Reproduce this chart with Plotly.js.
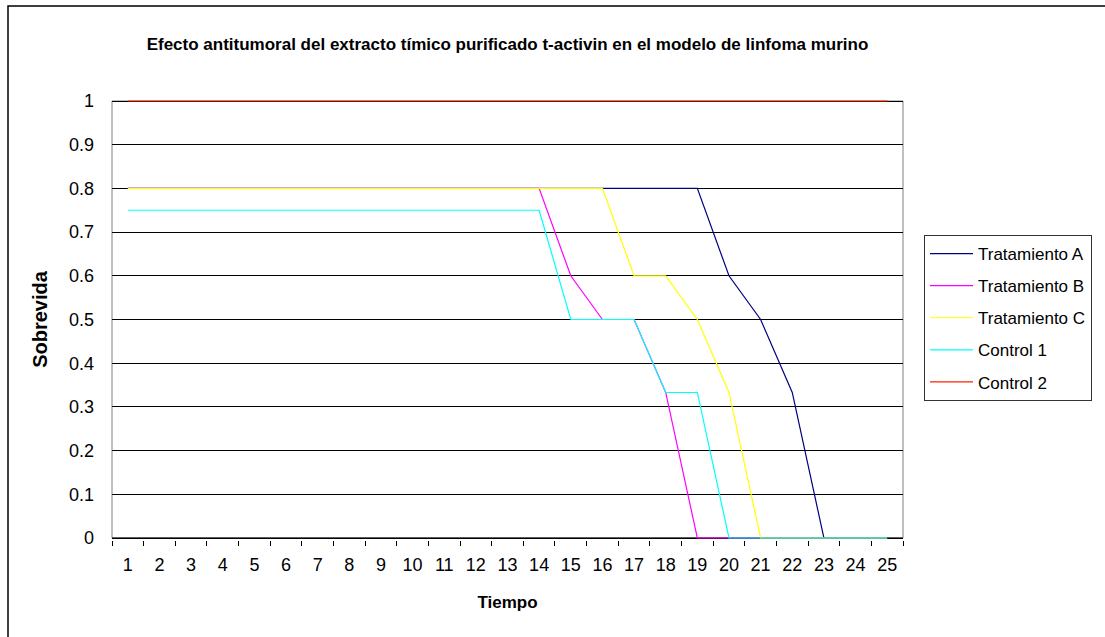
<!DOCTYPE html>
<html>
<head>
<meta charset="utf-8">
<script src="https://cdn.plot.ly/plotly-3.0.1.min.js"></script>
<style>
  html, body { margin: 0; padding: 0; background: #fff; }
  #chart { width: 1105px; height: 637px; }
</style>
</head>
<body>
<div id="chart"></div>
<script>
const tiempo = ['1','2','3','4','5','6','7','8','9','10','11','12','13','14','15','16','17','18','19','20','21','22','23','24','25'];
const tratamientoA = [0.8,0.8,0.8,0.8,0.8,0.8,0.8,0.8,0.8,0.8,0.8,0.8,0.8,0.8,0.8,0.8,0.8,0.8,0.8,0.6,0.5,0.333,0,0,0];
const tratamientoB = [0.8,0.8,0.8,0.8,0.8,0.8,0.8,0.8,0.8,0.8,0.8,0.8,0.8,0.8,0.6,0.5,0.5,0.333,0,0,0,0,0,0,0];
const tratamientoC = [0.8,0.8,0.8,0.8,0.8,0.8,0.8,0.8,0.8,0.8,0.8,0.8,0.8,0.8,0.8,0.8,0.6,0.6,0.5,0.333,0,0,0,0,0];
const control1 = [0.75,0.75,0.75,0.75,0.75,0.75,0.75,0.75,0.75,0.75,0.75,0.75,0.75,0.75,0.5,0.5,0.5,0.333,0.333,0,0,0,0,0,0];
const control2 = [1,1,1,1,1,1,1,1,1,1,1,1,1,1,1,1,1,1,1,1,1,1,1,1,1];
const yTicks = [0,0.1,0.2,0.3,0.4,0.5,0.6,0.7,0.8,0.9,1];

const seriesNames = ['Tratamiento A','Tratamiento B','Tratamiento C','Control 1','Control 2'];
const seriesValues = [tratamientoA, tratamientoB, tratamientoC, control1, control2];
const seriesColors = ['#000080','#FF00FF','#FFFF00','#00FFFF','#FF2200'];

const font = 'Liberation Sans, Arial, sans-serif';

const traces = seriesNames.map((n, i) => ({
  x: tiempo, y: seriesValues[i], name: n, type: 'scatter', mode: 'lines',
  line: { color: seriesColors[i], width: 1.2 }, legendgroup: 'g' + i,
  cliponaxis: false
}));

// value 0 at y=538px, value 1 at y=101px; plot box 2px larger on top/bottom
const L = 112, R = 903, T = 99, B = 540;
const V0 = 538, V1 = 101;
const unit = V0 - V1;
const yLo = -(B - V0) / unit, yHi = 1 + (V1 - T) / unit;
const px = v => (v - L) / (R - L);
const py = v => (B - v) / (B - T);

const layout = {
  width: 1105, height: 637,
  margin: { l: L, r: 1105 - R, t: T, b: 637 - B },
  paper_bgcolor: '#fff', plot_bgcolor: '#fff',
  font: { family: font, color: '#000', size: 17 },
  showlegend: true,
  title: {
    text: '<b>Efecto antitumoral del extracto tímico purificado t-activin en el modelo de linfoma murino</b>',
    font: { family: font, size: 17, color: '#000' },
    x: 0.5, xref: 'paper', xanchor: 'center',
    y: 1 - 44 / 637, yref: 'container', yanchor: 'middle'
  },
  xaxis: {
    type: 'category', range: [-0.5, 24.5],
    tickmode: 'array', tickvals: tiempo, ticktext: tiempo,
    tickson: 'boundaries', ticks: 'outside', ticklen: 5, tickcolor: '#000', tickwidth: 1,
    showline: false,
    showgrid: false, zeroline: false, layer: 'below traces',
    tickfont: { size: 18, family: font }, ticklabelstandoff: 12,
    title: { text: '<b>Tiempo</b>', font: { size: 17, family: font }, standoff: 22 },
    automargin: false
  },
  yaxis: {
    range: [yLo, yHi], tickmode: 'array', tickvals: yTicks,
    ticktext: yTicks.map(v => String(v)),
    showgrid: true, gridcolor: '#000', gridwidth: 1,
    zeroline: true, zerolinecolor: '#000', zerolinewidth: 1,
    showline: false, ticks: '', ticklabelstandoff: 17, layer: 'below traces',
    tickfont: { size: 18, family: font },
    title: { text: '<b>Sobrevida</b>', font: { size: 20, family: font }, standoff: 15 },
    automargin: false
  },
  legend: {
    x: px(924), xanchor: 'left', y: py(235), yanchor: 'top',
    xref: 'paper', yref: 'paper',
    bordercolor: '#333', borderwidth: 1, bgcolor: '#fff',
    font: { size: 17, family: font, color: '#000' },
    traceorder: 'grouped', tracegroupgap: 7, itemwidth: 43
  },
  shapes: [
    { type: 'rect', xref: 'paper', yref: 'paper',
      x0: px(8), x1: px(1110), y0: py(645), y1: py(6),
      line: { color: '#000', width: 1.5 }, fillcolor: 'rgba(0,0,0,0)', layer: 'below' },
    { type: 'rect', xref: 'paper', yref: 'y', x0: 0, x1: 1, y0: 0, y1: 1,
      line: { color: '#808080', width: 1 }, fillcolor: 'rgba(0,0,0,0)', layer: 'below' },
    { type: 'line', xref: 'paper', yref: 'y', x0: 0, x1: 1, y0: 0, y1: 0,
      line: { color: '#000', width: 1 }, layer: 'below' }
  ]
};

Plotly.newPlot('chart', traces, layout, { displayModeBar: false, staticPlot: true });
</script>
</body>
</html>
